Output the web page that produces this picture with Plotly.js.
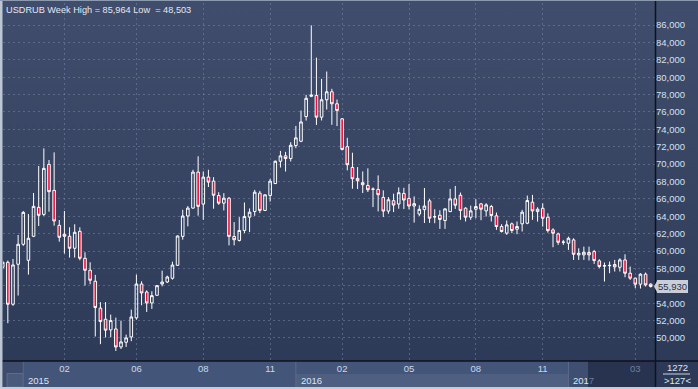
<!DOCTYPE html>
<html><head><meta charset="utf-8">
<script src="https://cdn.plot.ly/plotly-3.0.1.min.js"></script>
<style>
html,body{margin:0;padding:0;background:#2e3b58;}
#chart{width:698px;height:389px;background:linear-gradient(to bottom,#404d6c 0%,#2c3956 100%);}
</style></head><body><div id="chart"></div>
<script>
// Weekly USDRUB candles
const openV  = [58130,58710,53880,58480,60780,58940,61700,65030,64220,69970,66980,62960,61930,61700,60320,62270,59170,57790,56530,53430,52160,50930,51040,48970,49510,50120,52310,56210,55290,54030,54910,56210,56440,56870,58360,61690,64030,64940,69080,65400,68510,68050,66390,65510,66080,61680,61220,62370,63900,64550,66660,64670,66390,67770,70330,70950,70640,72140,72630,75470,77800,77900,75400,77400,78320,76940,75210,72000,69620,68360,67860,67550,67100,67090,66170,64600,65790,65410,66630,66060,65180,64260,64760,65770,63930,64120,63510,64540,66000,66420,64930,63890,64810,65430,64620,65120,64050,62820,62060,63130,62510,63130,63200,65620,64540,64920,63890,62430,61970,61010,60900,61280,59560,59560,59830,59940,58870,58280,58310,58450,58140,58980,57450,56880,56190,57340,56190];
const highV  = [58900,58900,59090,61850,64600,64260,66680,69780,71810,70470,71350,63570,64610,62730,63080,62730,59860,58710,57260,54120,54120,52690,52340,52000,50390,53260,57280,56520,55480,55370,56100,57740,57170,58780,61800,64750,65170,69350,70900,69160,69350,68500,66770,66660,66200,63330,63900,65590,64900,67040,66930,66500,68310,70410,71520,71410,72520,74390,76160,77960,85964,82250,79810,80650,78660,77430,75300,73030,71310,69660,69160,69510,67320,68700,66980,66210,66600,67320,67280,67700,66290,65260,67250,66000,64810,64700,64930,67150,67490,66730,65040,65230,65960,65500,65500,65310,64430,63090,63510,63280,63400,64740,66380,66460,65040,65490,64340,62620,62120,61280,61660,61470,60320,60510,60510,60130,59060,58680,58790,58980,59170,59630,58220,56950,57450,57530,56300];
const lowV   = [57900,51700,53700,54880,60600,57290,61600,62880,64030,64530,62920,61080,59710,59250,59250,58940,56030,56180,50170,49290,50060,50080,48503,48740,48970,49630,52110,53760,53000,53340,54900,55940,56330,56710,58300,61310,62840,64870,64070,63600,67360,64870,65320,64670,60650,60650,61100,62060,62180,64050,64360,64600,65700,67690,69610,69150,70300,71830,72520,75010,77700,74510,75020,76280,74520,74370,71570,69280,67170,67130,66670,66790,65060,64560,63910,64290,64480,64870,64830,64790,63270,64030,63230,63240,63200,62550,62550,64470,64850,63590,63400,63590,63780,63550,63970,63400,62440,62130,61860,62060,61940,62250,63090,63590,63390,62810,62120,60440,60710,60710,60130,58980,58980,58980,58910,58520,58030,56490,57450,57640,57640,56990,56680,55730,55690,55920,55800];
const closeV = [58710,53880,58400,60780,64450,61470,65140,64110,69510,66830,63460,61580,61700,60320,62160,59170,57790,56640,53500,51890,50900,52000,48970,49550,50010,52420,56210,55180,54030,54870,56020,56440,57020,58390,61730,64030,64940,69080,65140,68510,67930,66420,65510,66080,61680,61300,62370,63980,64470,66770,64670,66470,68040,70330,70950,70640,72170,73020,74850,77570,77950,75400,77400,78320,76940,76170,71690,69930,68320,68090,67630,67050,67120,66480,64600,65900,65290,66710,65870,65180,65450,64800,65180,63780,63950,63630,64850,66000,65270,64660,63890,64620,65120,64810,65310,64080,62820,62250,63010,62360,62820,64470,65810,64620,64810,63770,62350,62050,61010,61030,61470,59630,59750,59860,59560,58910,58220,58310,58350,58180,58980,57450,56880,56190,57340,56110,55930];

const monthTickIdx    = [12,26,39,52,66,79,92,105,123];
const monthTickLabels = ['02','06','08','11','02','05','08','11','03'];
const yearStartIdx = [4,57,110];
const yearLabels   = ['2015','2016','2017'];
const yTickVals = [50000,52000,54000,56000,58000,60000,62000,64000,66000,68000,70000,72000,74000,76000,78000,80000,82000,84000,86000];
const symbolName = 'USDRUB';
const periodName = 'Week';
const barCountTop = '1272';
const barCountBottom = '>127<';

const xIdx = openV.map((_, i) => i);
const fmt = v => v.toLocaleString('en-US');
const hi = Math.max(...highV), lo = Math.min(...lowV);
const lastPrice = closeV[closeV.length - 1];
const FONT = 'Liberation Sans, Arial, sans-serif';

// geometry helpers (pixels -> paper)
const L = 3, R = 43, T = 3, B = 28, W = 698 - L - R, H = 389 - T - B;
const px = p => (p - L) / W;
const py = p => (T + H - p) / H;
const xRange = [0.058, 126.83];
const yRange = [47353, 88532];
const idxPx = i => L + (i - xRange[0]) / (xRange[1] - xRange[0]) * W;
const valPy = v => T + H - (v - yRange[0]) / (yRange[1] - yRange[0]) * H;

function rect(x0, x1, y0, y1, fill, line, layer) {
  return {type:'rect', xref:'paper', yref:'paper', x0:px(x0), x1:px(x1), y0:py(y1), y1:py(y0),
    fillcolor: fill, line: line ? {color: line, width: 1} : {width: 0}, layer: layer || 'below'};
}
function lineS(x0, y0, x1, y1, color, w, layer) {
  return {type:'line', xref:'paper', yref:'paper', x0:px(x0), x1:px(x1), y0:py(y0), y1:py(y1),
    line:{color: color, width: w}, layer: layer || 'below'};
}

const y2015 = idxPx(yearStartIdx[0]), y2016 = idxPx(yearStartIdx[1]), y2017 = idxPx(yearStartIdx[2]);
const lp = valPy(lastPrice);
const shapes = [
  rect(3, y2015, 361, 387, '#3d4c6c'),
  rect(7, y2015, 373.5, 387, '#4a5a7b', '#5c6c8c'),
  rect(y2015, y2017, 361, 374, '#44557a'),
  rect(y2015, y2016, 374, 387, '#44557a'),
  rect(y2016, y2017, 374, 387, '#4e5f82'),
  rect(y2017, 588, 361, 387, '#3f4f71'),
  rect(588, 655.5, 361, 387, '#283350'),
  lineS(y2015, 361, y2015, 387, '#56678a', 1),
  lineS(y2016, 361, y2016, 387, '#5a6b8e', 1),
  lineS(y2017, 361, y2017, 387, '#5a6b8e', 1),
  lineS(663, 374, 690, 374, '#c8d2e0', 1),
  lineS(0, 361, 698, 361, '#0e121c', 1.5, 'above'),
  lineS(655.5, 0, 655.5, 389, '#0e121c', 1.5, 'above'),
  rect(0, 2.5, 0, 389, '#bcc6d4', null, 'above'),
  rect(0, 698, 387, 389, '#c4ccd8', null, 'above'),
  rect(0, 698, 0, 1, '#8c9ab0', null, 'above'),
  // left-pointing notch of the last-price marker
  {type:'path', xref:'paper', yref:'paper', layer:'above',
   path:`M ${px(657)} ${py(lp-5.5)} L ${px(657)} ${py(lp+5.5)} L ${px(654)} ${py(lp)} Z`,
   fillcolor:'#c9ced8', line:{width:0}},
];

const annotations = [
  {xref:'paper', yref:'paper', x:px(4), y:py(9.5), xanchor:'left', yanchor:'middle', showarrow:false,
   text:`${symbolName} ${periodName} High = ${fmt(hi)} Low  = ${fmt(lo)}`,
   font:{family:FONT, size:9.2, color:'#e2e9f4'}},
  {xref:'paper', yref:'y', x:px(657), y:lastPrice, xanchor:'left', yanchor:'middle', showarrow:false,
   text:fmt(lastPrice), bgcolor:'#c9ced8', bordercolor:'#c9ced8', borderwidth:1, borderpad:0,
   font:{family:FONT, size:9.5, color:'#2a3244'}},
  {xref:'paper', yref:'paper', x:px(677), y:py(367), xanchor:'center', yanchor:'middle', showarrow:false,
   text:barCountTop, font:{family:FONT, size:9.5, color:'#dde6f2'}},
  {xref:'paper', yref:'paper', x:px(677), y:py(380), xanchor:'center', yanchor:'middle', showarrow:false,
   text:barCountBottom, font:{family:FONT, size:9.5, color:'#dde6f2'}},
];
yearLabels.forEach((t, i) => {
  annotations.push({xref:'x', yref:'paper', x:yearStartIdx[i], xshift:3, y:py(380.5), xanchor:'left', yanchor:'middle',
    showarrow:false, text: i === 2 ? t.slice(0,3) + '<span style="color:#6e7d99">' + t.slice(3) + '</span>' : t,
    font:{family:FONT, size:9.5, color:'#dbe4f2'}});
});

const tickText = monthTickLabels.map((t, i) => idxPx(monthTickIdx[i]) > 588 ? '<span style="color:#6f7f9c">' + t + '</span>' : t);
// tick label hidden behind the last-price marker
const yTickText = yTickVals.map(v => Math.abs(valPy(v) - lp) < 10 ? '' : fmt(v));

const trace = {
  type:'candlestick', x:xIdx, open:openV, high:highV, low:lowV, close:closeV,
  increasing:{line:{color:'#ffffff', width:1}, fillcolor:'rgba(0,0,0,0)'},
  decreasing:{line:{color:'#ffffff', width:1}, fillcolor:'#ee0c38'},
  whiskerwidth:0, hoverinfo:'skip', showlegend:false
};

const layout = {
  width:698, height:389, margin:{l:L, r:R, t:T, b:B, pad:0},
  paper_bgcolor:'rgba(0,0,0,0)', plot_bgcolor:'rgba(0,0,0,0)',
  boxgap:0.28,
  font:{family:FONT, size:9.5, color:'#d4e0f2'},
  xaxis:{type:'linear', range:xRange, rangeslider:{visible:false}, tickmode:'array',
    tickvals:monthTickIdx, ticktext:tickText, showgrid:true, gridcolor:'rgba(120,140,175,0.5)', griddash:'2px,3px',
    gridwidth:1, zeroline:false, showline:false, ticks:'', tickfont:{size:9.5, color:'#c9d8ee'}, fixedrange:true},
  yaxis:{side:'right', range:yRange, tickmode:'array', tickvals:yTickVals, ticktext:yTickText,
    showgrid:true, gridcolor:'rgba(120,140,175,0.5)', griddash:'2px,3px', gridwidth:1, zeroline:false,
    showline:false, ticks:'', tickfont:{size:9.5, color:'#d4e0f2'}, fixedrange:true},
  shapes:shapes, annotations:annotations, showlegend:false
};

Plotly.newPlot('chart', [trace], layout, {staticPlot:true, displayModeBar:false});
</script></body></html>
